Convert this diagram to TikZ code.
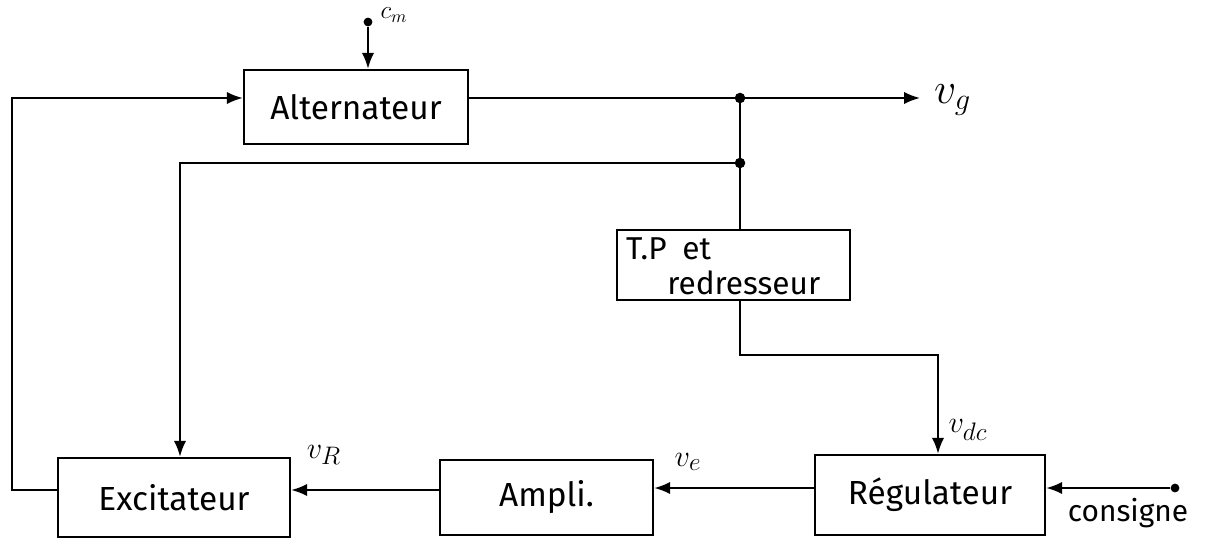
\documentclass[tikz,border=0pt]{standalone}
\usepackage{fontspec}
\setmainfont{Fira Sans}
\usetikzlibrary{arrows.meta}
\begin{document}
\begin{tikzpicture}[x=0.02cm,y=-0.02cm,
  blk/.style={draw,line width=1.4pt,inner sep=0pt,font=\fontsize{19}{21}\selectfont},
  wire/.style={line width=1.2pt},
  arr/.style={wire,-{Latex[length=9pt,width=7pt]}},
  dot/.style={circle,fill,inner sep=0pt,minimum size=6pt},
  lbl/.style={font=\fontsize{19}{21}\selectfont}]
\useasboundingbox (0,0) rectangle (1226,541);
\node[blk,minimum width=224*0.02cm,minimum height=74*0.02cm] (alt) at (356,107) {Alternateur};
\node[blk,minimum width=233*0.02cm,minimum height=70*0.02cm] (tp) at (733.5,265) {};
\node[lbl,anchor=north west,align=left,font=\fontsize{18}{20}\selectfont] (tptext) at (620,231) {T.P\enspace et\\\hspace*{1.3em}redresseur};
\node[blk,minimum width=230*0.02cm,minimum height=80*0.02cm] (reg) at (930,495) {Régulateur};
\node[blk,minimum width=213*0.02cm,minimum height=75*0.02cm] (amp) at (546.5,497.5) {Ampli.};
\node[blk,minimum width=232*0.02cm,minimum height=79*0.02cm] (exc) at (174,497.5) {Excitateur};
% input c_m
\node[dot,minimum size=5pt] (cm) at (368,22) {};
\node[lbl,font=\fontsize{14}{15}\selectfont,inner sep=1pt] (cmlbl) at (394,15) {$c_m$};
\draw[arr] (cm) -- (alt.north -| cm);
% output v_g
\coordinate (j1) at (740,98);
\coordinate (j2) at (740,163);
\coordinate (vgend) at (920,98);
\node[dot] at (j1) {};
\node[dot] at (j2) {};
\node[lbl,anchor=west,font=\fontsize{24}{26}\selectfont] (vg) at (928,100) {$v_g$};
\draw[arr] (alt.east |- j1) -- (vgend);
\draw[wire] (j1) -- (j1 |- tp.north);
\coordinate (c1) at (180,163);
\draw[arr] (j2) -- (c1) -- (c1 |- exc.north);
% TP to regulator
\coordinate (c2) at (740,355);
\coordinate (c3) at (938,355);
\draw[arr] (tp.south -| c2) -- (c2) -- (c3) -- (c3 |- reg.north);
\node[lbl] (vdc) at (968,430) {$v_{dc}$};
% consigne
\node[dot,minimum size=5pt] (cons) at (1175,488) {};
\draw[arr] (cons) -- (reg.east |- cons);
\node[lbl,font=\fontsize{17}{19}\selectfont] (conslbl) at (1128,513) {consigne};
% reg -> ampli
\draw[arr] (reg.west |- 0,488) -- (amp.east |- 0,488);
\node[lbl] (ve) at (688,462) {$v_e$};
% ampli -> exc
\draw[arr] (amp.west |- 0,490) -- (exc.east |- 0,490);
\node[lbl] (vr) at (324,455) {$v_R$};
% feedback exc -> alt
\coordinate (c4) at (12,490);
\coordinate (c5) at (12,98);
\draw[arr] (exc.west |- c4) -- (c4) -- (c5) -- (alt.west |- c5);
\end{tikzpicture}
\end{document}
